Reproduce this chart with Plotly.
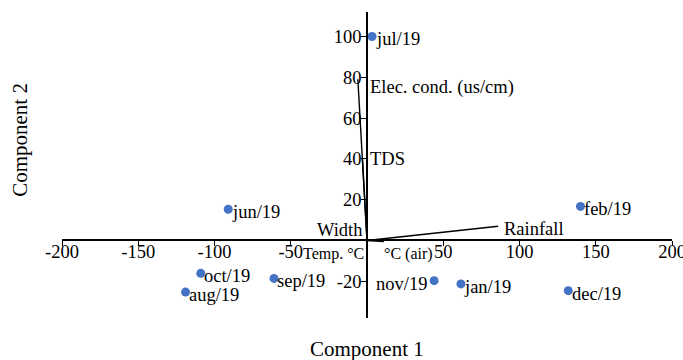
import plotly.graph_objects as go

# Scores (observations)
months = ["jul/19", "jun/19", "feb/19", "oct/19", "aug/19", "sep/19", "nov/19", "jan/19", "dec/19"]
pc1 = [3.3, -91, 140, -109, -119, -61, 44, 61.6, 132]
pc2 = [100, 15.3, 16.7, -16.1, -25.3, -18.6, -19.7, -21.3, -24.6]
label_left = [False, False, False, False, False, False, True, False, False]

# Loadings (variables)
variables = ["Elec. cond. (us/cm)", "TDS", "Width", "Temp. °C", "°C (air)", "Rainfall"]
load1 = [-6, -3, -0.5, -0.5, 11, 86]
load2 = [79, 40, 0.5, -0.5, -0.5, 7]

xticks = [-200, -150, -100, -50, 50, 100, 150, 200]
xticklabels = ["-200", "-150", "-100", "-50", "50", "100", "150", "200"]
yticks = [-20, 20, 40, 60, 80, 100]
yticklabels = ["-20", "20", "40", "60", "80", "100"]
xrange_ = [-200, 200]
yrange_ = [-38, 112]

FONT = "Liberation Serif, Times New Roman, serif"

fig = go.Figure()

# loading lines
for lx, ly in zip(load1, load2):
    fig.add_trace(go.Scatter(x=[0, lx], y=[0, ly], mode="lines",
                             line=dict(color="black", width=1.4),
                             hoverinfo="skip", showlegend=False))

fig.add_trace(go.Scatter(
    x=pc1, y=pc2, mode="markers",
    marker=dict(color="#4472C4", size=9),
    showlegend=False, cliponaxis=False))

for name, x, y, left in zip(months, pc1, pc2, label_left):
    fig.add_annotation(x=x, y=y, text=name, showarrow=False,
                       xanchor="right" if left else "left", yanchor="middle",
                       xshift=-5 if left else 1.5, yshift=-3,
                       font=dict(family=FONT, size=18.5, color="black"))

# loading label placement (anchor, xshift, yshift in px, font size)
placement = {
    "Elec. cond. (us/cm)": ("left", "middle", 10, -8, 18.5),
    "TDS": ("left", "middle", 6, 0, 18.5),
    "Width": ("right", "bottom", -1, -3, 18.5),
    "Temp. °C": ("right", "middle", 0, -12, 16),
    "°C (air)": ("left", "middle", -2, -12, 16),
    "Rainfall": ("left", "middle", 4, -3, 18.5),
}
for name, lx, ly in zip(variables, load1, load2):
    xa, ya, xs, ys, fs = placement[name]
    fig.add_annotation(x=lx, y=ly, text=name, showarrow=False,
                       xanchor=xa, yanchor=ya, xshift=xs, yshift=ys,
                       font=dict(family=FONT, size=fs, color="black"))

fig.add_annotation(x=0.5, y=-0.102, xref="paper", yref="paper", text="Component 1",
                   showarrow=False, xanchor="center", yanchor="middle",
                   font=dict(family=FONT, size=21, color="black"))
fig.add_annotation(x=-0.069, y=0.582, xref="paper", yref="paper", text="Component 2",
                   showarrow=False, textangle=-90, xanchor="center", yanchor="middle",
                   font=dict(family=FONT, size=21, color="black"))

ypos = (0 - yrange_[0]) / (yrange_[1] - yrange_[0])
xpos = (0 - xrange_[0]) / (xrange_[1] - xrange_[0])

axis_common = dict(ticks="outside", ticklen=5, tickcolor="black", tickwidth=1.3,
                   showline=True, linecolor="black", linewidth=1.6,
                   showgrid=False, zeroline=False, anchor="free",
                   automargin=False, ticklabeloverflow="allow",
                   tickfont=dict(family=FONT, size=18.5, color="black"))

fig.update_layout(
    width=683, height=360,
    margin=dict(l=62, r=11, t=12, b=42, autoexpand=False),
    plot_bgcolor="white", paper_bgcolor="white",
    font=dict(family=FONT, size=18, color="black"),
    xaxis=dict(range=xrange_, tickvals=xticks, ticktext=xticklabels,
               position=ypos, ticklabelstandoff=-10, **axis_common),
    yaxis=dict(range=yrange_, tickvals=yticks, ticktext=yticklabels,
               position=xpos, ticklabelstandoff=-4, **axis_common),
)

fig.write_html("out.html", config={"responsive": False, "displayModeBar": False},
               post_script="document.body.style.margin='0';document.body.style.overflow='hidden';")
